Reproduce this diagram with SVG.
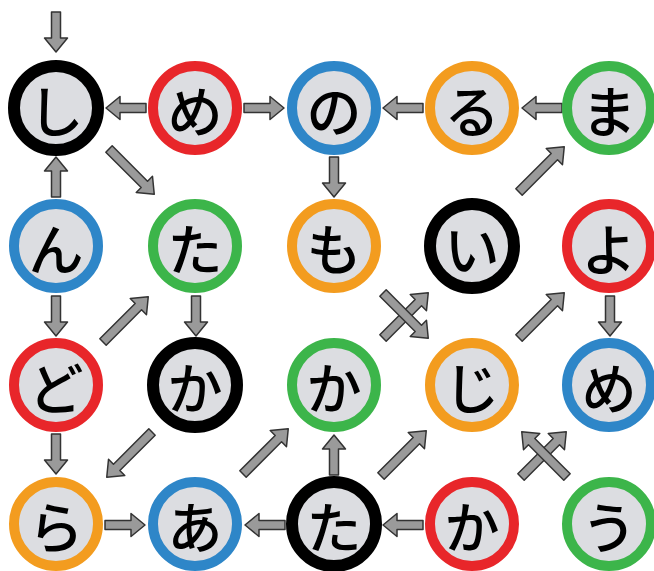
<svg xmlns="http://www.w3.org/2000/svg" xmlns:xlink="http://www.w3.org/1999/xlink" width="654" height="571" viewBox="0 0 654 571">
<style>
.n circle{fill:#dcdde1;stroke-width:10}
.n text{font-family:"Noto Sans CJK JP","Noto Sans CJK SC",sans-serif;font-size:55px;font-weight:500;fill:#000;text-anchor:middle;dominant-baseline:central}
.k circle{stroke:#000;stroke-width:12}
.r circle{stroke:#e8262a}
.b circle{stroke:#2e86c8}
.o circle{stroke:#f39c1f}
.g circle{stroke:#3cb54a}
.a{fill:#9a9a9a;stroke:#333;stroke-width:1.5;stroke-linejoin:round}
</style>
<defs>
<path id="as" class="a" d="M0,-4.5 L26,-4.5 L26,-11.5 L40,0 L26,11.5 L26,4.5 L0,4.5 Z"/>
<path id="al" class="a" d="M0,-4.5 L50,-4.5 L50,-11.5 L64,0 L50,11.5 L50,4.5 L0,4.5 Z"/>
</defs>
<rect width="654" height="571" fill="#ffffff"/>
<g id="connectors">
<use xlink:href="#as" transform="translate(56,12) rotate(90)"/>
<use xlink:href="#as" transform="translate(146,108) rotate(180)"/>
<use xlink:href="#as" transform="translate(244,108)"/>
<use xlink:href="#as" transform="translate(423,108) rotate(180)"/>
<use xlink:href="#as" transform="translate(562,108) rotate(180)"/>
<use xlink:href="#al" transform="translate(109,149) rotate(45)"/>
<use xlink:href="#as" transform="translate(56,197) rotate(-90)"/>
<use xlink:href="#as" transform="translate(334,157) rotate(90)"/>
<use xlink:href="#al" transform="translate(519,192) rotate(-45)"/>
<use xlink:href="#as" transform="translate(56,296) rotate(90)"/>
<use xlink:href="#al" transform="translate(103,342) rotate(-45)"/>
<use xlink:href="#as" transform="translate(196,296) rotate(90)"/>
<use xlink:href="#al" transform="translate(383,338) rotate(-45)"/>
<use xlink:href="#al" transform="translate(383,293) rotate(45)"/>
<use xlink:href="#al" transform="translate(519,338) rotate(-45)"/>
<use xlink:href="#as" transform="translate(610,296) rotate(90)"/>
<use xlink:href="#as" transform="translate(56,434) rotate(90)"/>
<use xlink:href="#al" transform="translate(152,432) rotate(135)"/>
<use xlink:href="#as" transform="translate(105,525)"/>
<use xlink:href="#as" transform="translate(285,525) rotate(180)"/>
<use xlink:href="#al" transform="translate(243,474) rotate(-45)"/>
<use xlink:href="#as" transform="translate(334,475) rotate(-90)"/>
<use xlink:href="#al" transform="translate(381,476) rotate(-45)"/>
<use xlink:href="#as" transform="translate(423,525) rotate(180)"/>
<use xlink:href="#al" transform="translate(521,477) rotate(-45)"/>
<use xlink:href="#al" transform="translate(567,477) rotate(-135)"/>
</g>
<g id="n1" class="n k"><circle cx="56" cy="108" r="42"/><text x="56" y="108">し</text></g>
<g id="n2" class="n r"><circle cx="195" cy="108" r="42"/><text x="195" y="108">め</text></g>
<g id="n3" class="n b"><circle cx="334" cy="108" r="42"/><text x="334" y="108">の</text></g>
<g id="n4" class="n o"><circle cx="472" cy="108" r="42"/><text x="472" y="108">る</text></g>
<g id="n5" class="n g"><circle cx="609" cy="108" r="42"/><text x="609" y="108">ま</text></g>
<g id="n6" class="n b"><circle cx="56" cy="246" r="42"/><text x="56" y="246">ん</text></g>
<g id="n7" class="n g"><circle cx="195" cy="246" r="42"/><text x="195" y="246">た</text></g>
<g id="n8" class="n o"><circle cx="334" cy="246" r="42"/><text x="334" y="246">も</text></g>
<g id="n9" class="n k"><circle cx="472" cy="246" r="42"/><text x="472" y="246">い</text></g>
<g id="n10" class="n r"><circle cx="609" cy="246" r="42"/><text x="609" y="246">よ</text></g>
<g id="n11" class="n r"><circle cx="56" cy="385" r="42"/><text x="56" y="385">ど</text></g>
<g id="n12" class="n k"><circle cx="195" cy="385" r="42"/><text x="195" y="385">か</text></g>
<g id="n13" class="n g"><circle cx="334" cy="385" r="42"/><text x="334" y="385">か</text></g>
<g id="n14" class="n o"><circle cx="472" cy="385" r="42"/><text x="472" y="385">じ</text></g>
<g id="n15" class="n b"><circle cx="609" cy="385" r="42"/><text x="609" y="385">め</text></g>
<g id="n16" class="n o"><circle cx="56" cy="524" r="42"/><text x="56" y="524">ら</text></g>
<g id="n17" class="n b"><circle cx="195" cy="524" r="42"/><text x="195" y="524">あ</text></g>
<g id="n18" class="n k"><circle cx="334" cy="524" r="42"/><text x="334" y="524">た</text></g>
<g id="n19" class="n r"><circle cx="472" cy="524" r="42"/><text x="472" y="524">か</text></g>
<g id="n20" class="n g"><circle cx="609" cy="524" r="42"/><text x="609" y="524">う</text></g>
</svg>
